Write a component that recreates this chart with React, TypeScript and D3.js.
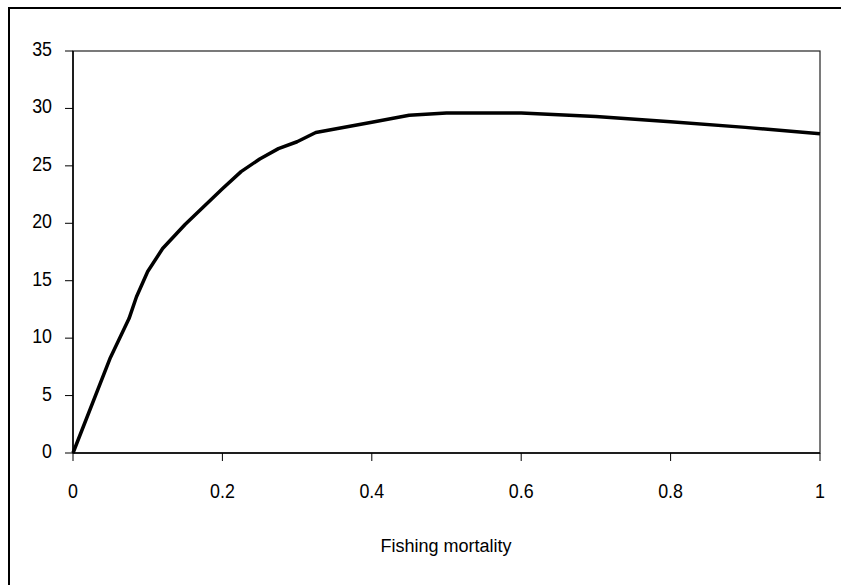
import React, { useEffect } from "react";
import * as d3 from "d3";

const fishingMortality = [0, 0.05, 0.075, 0.085, 0.1, 0.12, 0.15, 0.2, 0.225, 0.25, 0.275, 0.3, 0.325, 0.4, 0.45, 0.5, 0.6, 0.7, 0.8, 0.9, 1.0];
const yieldValues = [0, 8.3, 11.7, 13.6, 15.8, 17.8, 19.9, 23.0, 24.5, 25.6, 26.5, 27.1, 27.9, 28.8, 29.4, 29.6, 29.6, 29.3, 28.85, 28.35, 27.8];
const xTicks = [0, 0.2, 0.4, 0.6, 0.8, 1];
const xTickLabels = ["0", "0.2", "0.4", "0.6", "0.8", "1"];
const yTicks = [0, 5, 10, 15, 20, 25, 30, 35];
const xAxisTitle = "Fishing mortality";

const W = 841;
const H = 585;
const plot = { left: 73, right: 820, top: 51, bottom: 453 };
const FONT = "'Liberation Sans', Arial, sans-serif";
const NARROW = 0.85;

export default function App() {
  useEffect(() => {
    document.body.style.margin = "0";
  }, []);

  const x = d3.scaleLinear().domain([0, 1]).range([plot.left, plot.right]);
  const y = d3.scaleLinear().domain([0, 35]).range([plot.bottom, plot.top]);
  const data = fishingMortality.map((f, i) => [f, yieldValues[i]] as [number, number]);
  const line = d3.line<[number, number]>().x((d) => x(d[0])).y((d) => y(d[1]));

  return (
    <svg width={W} height={H} style={{ display: "block", background: "#fff" }}>
      <rect x={0} y={0} width={W} height={H} fill="#fff" />
      {/* outer chart border */}
      <rect x={9} y={8} width={W + 20} height={H + 20} fill="none" stroke="#000" strokeWidth={2} />
      {/* plot area border */}
      <rect x={plot.left} y={plot.top} width={plot.right - plot.left} height={plot.bottom - plot.top} fill="none" stroke="#222" strokeWidth={1.2} />
      {/* axes */}
      <line x1={plot.left} x2={plot.left} y1={plot.top} y2={plot.bottom} stroke="#000" strokeWidth={1.5} />
      <line x1={plot.left} x2={plot.right} y1={plot.bottom} y2={plot.bottom} stroke="#000" strokeWidth={1.5} />
      {yTicks.map((t) => (
        <g key={"y" + t}>
          <line x1={plot.left - 8} x2={plot.left} y1={y(t)} y2={y(t)} stroke="#000" strokeWidth={1} />
          <g transform={`translate(52,${y(t) + 5}) scale(${NARROW},1)`}>
            <text x={0} y={0} textAnchor="end" fontFamily={FONT} fontSize={21} fill="#000">
              {t}
            </text>
          </g>
        </g>
      ))}
      {xTicks.map((t, i) => (
        <g key={"x" + t}>
          <line x1={x(t)} x2={x(t)} y1={plot.bottom} y2={plot.bottom + 8} stroke="#000" strokeWidth={1} />
          <g transform={`translate(${x(t)},498) scale(${NARROW},1)`}>
            <text x={0} y={0} textAnchor="middle" fontFamily={FONT} fontSize={21} fill="#000">
              {xTickLabels[i]}
            </text>
          </g>
        </g>
      ))}
      <text x={446} y={552} textAnchor="middle" fontFamily={FONT} fontSize={18} fill="#000">
        {xAxisTitle}
      </text>
      <path d={line(data) || ""} fill="none" stroke="#000" strokeWidth={3.5} strokeLinejoin="round" />
    </svg>
  );
}
